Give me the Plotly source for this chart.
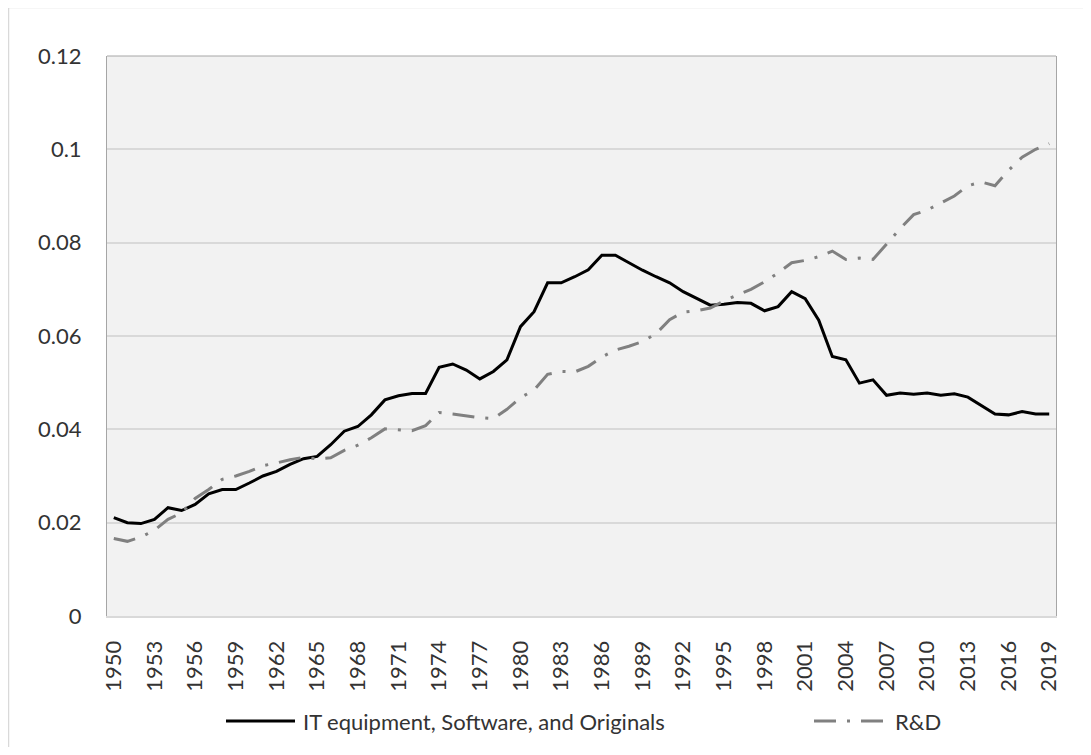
import plotly.graph_objects as go

years = [str(y) for y in range(1950, 2020)]

it_equipment = [
    0.0211, 0.0200, 0.0198, 0.0207, 0.0232, 0.0226, 0.0239, 0.0262, 0.0271, 0.0271,
    0.0285, 0.0300, 0.0310, 0.0325, 0.0337, 0.0342, 0.0367, 0.0396, 0.0406, 0.0431,
    0.0463, 0.0472, 0.0477, 0.0477, 0.0533, 0.0540, 0.0527, 0.0508, 0.0524, 0.0549,
    0.0620, 0.0652, 0.0714, 0.0714, 0.0727, 0.0742, 0.0773, 0.0773, 0.0757, 0.0741,
    0.0727, 0.0714, 0.0695, 0.0680, 0.0666, 0.0668, 0.0672, 0.0670, 0.0654, 0.0663,
    0.0695, 0.0680, 0.0634, 0.0556, 0.0549, 0.0499, 0.0506, 0.0473, 0.0478, 0.0475,
    0.0478, 0.0473, 0.0476, 0.0469, 0.0451, 0.0433, 0.0431, 0.0438, 0.0433, 0.0433,
]

rnd = [
    0.0166, 0.0160, 0.0169, 0.0184, 0.0207, 0.0221, 0.0252, 0.0271, 0.0293, 0.0300,
    0.0310, 0.0322, 0.0328, 0.0335, 0.0340, 0.0337, 0.0339, 0.0355, 0.0366, 0.0382,
    0.0401, 0.0399, 0.0397, 0.0408, 0.0436, 0.0433, 0.0429, 0.0425, 0.0423, 0.0443,
    0.0468, 0.0484, 0.0518, 0.0524, 0.0523, 0.0535, 0.0555, 0.0570, 0.0578, 0.0588,
    0.0605, 0.0635, 0.0651, 0.0654, 0.0660, 0.0675, 0.0688, 0.0700, 0.0716, 0.0735,
    0.0757, 0.0762, 0.0770, 0.0782, 0.0764, 0.0767, 0.0764, 0.0798, 0.0830, 0.0860,
    0.0870, 0.0885, 0.0900, 0.0922, 0.0930, 0.0922, 0.0955, 0.0983, 0.1000, 0.1012,
]

series_names = ["IT equipment, Software, and Originals", "R&D"]
year_ticks = years[::3]
y_ticks = [0, 0.02, 0.04, 0.06, 0.08, 0.1, 0.12]
y_labels = ["0", "0.02", "0.04", "0.06", "0.08", "0.1", "0.12"]

FONT = "Lato, 'Open Sans', sans-serif"
TEXT_COLOR = "#333333"
# the page body adds an 8px offset; the figure is sized/positioned to compensate
OFF = 8
W, H = 1075, 739
ML, MT = 107 - OFF, 56 - OFF
PLOT_RIGHT, PLOT_BOTTOM = 1056 - OFF, 616 - OFF
MR, MB = W - PLOT_RIGHT, H - PLOT_BOTTOM
PW, PH = W - ML - MR, H - MT - MB

RND_DASH = "22px,11px,3px,11px"


def px(x):
    """viewport pixel x -> paper fraction"""
    return (x - OFF - ML) / PW


def py(y):
    """viewport pixel y -> paper fraction"""
    return (PLOT_BOTTOM - (y - OFF)) / PH


fig = go.Figure()
fig.add_trace(go.Scatter(
    x=years, y=it_equipment, mode="lines", name=series_names[0],
    line=dict(color="#000000", width=3),
))
fig.add_trace(go.Scatter(
    x=years, y=rnd, mode="lines", name=series_names[1],
    line=dict(color="#808080", width=3, dash=RND_DASH),
))

legend_y = 721
shapes = [
    dict(type="line", xref="paper", yref="paper", x0=0, x1=1, y0=1, y1=1,
         line=dict(color="#A6A6A6", width=1)),
    dict(type="rect", xref="paper", yref="paper",
         x0=px(8.5), x1=px(1200), y0=py(800), y1=py(7.5),
         line=dict(color="#D9D9D9", width=1.5)),
    dict(type="line", xref="paper", yref="paper",
         x0=px(226), x1=px(295), y0=py(legend_y), y1=py(legend_y),
         line=dict(color="#000000", width=3)),
    dict(type="line", xref="paper", yref="paper",
         x0=px(814), x1=px(889), y0=py(legend_y), y1=py(legend_y),
         line=dict(color="#808080", width=3, dash=RND_DASH)),
]
annotations = [
    dict(xref="paper", yref="paper", x=px(301), y=py(legend_y), xanchor="left",
         yanchor="middle", text=series_names[0], showarrow=False,
         font=dict(family=FONT, size=22, color=TEXT_COLOR)),
    dict(xref="paper", yref="paper", x=px(893), y=py(legend_y), xanchor="left",
         yanchor="middle", text=series_names[1], showarrow=False,
         font=dict(family=FONT, size=22, color=TEXT_COLOR)),
]

fig.update_layout(
    width=W, height=H,
    margin=dict(l=ML, r=MR, t=MT, b=MB, autoexpand=False),
    paper_bgcolor="white",
    plot_bgcolor="#F2F2F2",
    font=dict(family=FONT, size=22, color=TEXT_COLOR),
    showlegend=False,
    xaxis=dict(
        type="category", tickmode="array", tickvals=year_ticks, ticktext=year_ticks,
        tickangle=-90, showgrid=False, showline=True, linecolor="#D9D9D9", linewidth=2,
        ticks="", ticklabelstandoff=14, zeroline=False, automargin=False,
        tickfont=dict(family=FONT, size=22, color=TEXT_COLOR),
        range=[-0.5, len(years) - 0.5],
    ),
    yaxis=dict(
        range=[0, 0.12], tickmode="array", tickvals=y_ticks, ticktext=y_labels,
        showgrid=True, gridcolor="#D9D9D9", gridwidth=2,
        showline=True, linecolor="#A6A6A6", linewidth=1, mirror=True,
        zeroline=False, ticks="", ticklabelstandoff=20, automargin=False,
        tickfont=dict(family=FONT, size=22, color=TEXT_COLOR),
    ),
    shapes=shapes,
    annotations=annotations,
)

fig.write_html("out.html")
